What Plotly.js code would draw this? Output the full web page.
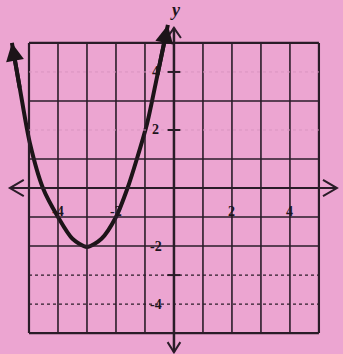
<!DOCTYPE html>
<html>
<head>
<meta charset="utf-8">
<script src="https://cdn.plot.ly/plotly-3.0.1.min.js"></script>
<style>
  html, body { margin: 0; padding: 0; background: #eca5d1; }
  #chart { width: 343px; height: 354px; }
</style>
</head>
<body>
<div id="chart"></div>
<script>
// parabola (vertex near (-3,-2))
var curveX = [-5.59, -5.31, -4.97, -4.52, -4.0, -3.5, -3.0, -2.5, -2.0, -1.6, -1.28, -0.92, -0.58, -0.21];
var curveY = [5.0, 3.4, 1.55, 0.0, -1.0, -1.75, -2.03, -1.75, -1.0, 0.0, 1.0, 2.25, 3.85, 5.62];

// grid
var gridX = [-5, -4, -3, -2, -1, 0, 1, 2, 3, 4, 5];
var solidY = [5, 3, 1, -1, -2, -5];
var dottedY = [-3, -4];
var faintY = [2, 4];

// tick labels
var xTickVals = [-4, -2, 2, 4];
var xTickText = ["-4", "-2", "2", "4"];
var yTickVals = [4, 2, -2, -4];
var yTickText = ["4", "2", "-2", "-4"];
var yTickMarks = [4, 2, -3];

var ink = "#2a1c28";
var shapes = [];

gridX.forEach(function(v){
    var w = (v == 0) ? 2.5 : ((v == -5 || v == 5) ? 2.2 : 1.6);
    if(v == 0){
        shapes.push({type:"line", x0:0, x1:0, y0:-5.66, y1:5.52, line:{color:ink, width:w}});
    } else {
        shapes.push({type:"line", x0:v, x1:v, y0:-5, y1:5, line:{color:ink, width:w}});
    }
});
solidY.forEach(function(v){
    var w = (v == -5 || v == 5) ? 2.2 : 1.6;
    shapes.push({type:"line", x0:-5, x1:5, y0:v, y1:v, line:{color:ink, width:w}});
});
dottedY.forEach(function(v){
    shapes.push({type:"line", x0:-5, x1:5, y0:v, y1:v, line:{color:ink, width:1.4, dash:"dot"}});
});
faintY.forEach(function(v){
    shapes.push({type:"line", x0:-5, x1:5, y0:v, y1:v, line:{color:"#d994c0", width:1, dash:"dot"}});
});
// x axis
shapes.push({type:"line", x0:-5.66, x1:5.62, y0:0, y1:0, line:{color:ink, width:2}});
// axis chevrons
shapes.push({type:"path", path:"M -5.18 0.28 L -5.66 0 L -5.18 -0.28", line:{color:ink, width:2}});
shapes.push({type:"path", path:"M 5.14 0.28 L 5.62 0 L 5.14 -0.28", line:{color:ink, width:2}});
shapes.push({type:"path", path:"M -0.24 5.17 L 0 5.52 L 0.24 5.17", line:{color:ink, width:2}});
shapes.push({type:"path", path:"M -0.22 -5.31 L 0 -5.66 L 0.22 -5.31", line:{color:ink, width:2}});
// little ticks on the y axis
yTickMarks.forEach(function(v){
    shapes.push({type:"line", x0:-0.22, x1:0.22, y0:v, y1:v, line:{color:ink, width:2}});
});

var lblFont = {family:"Liberation Serif", size:14, color:"#1e141c", weight:"bold"};
var annotations = [];
xTickVals.forEach(function(v, i){
    annotations.push({x:v, y:-0.82, text:xTickText[i], showarrow:false, font:lblFont});
});
yTickVals.forEach(function(v, i){
    annotations.push({x:-0.62, y:v, text:yTickText[i], showarrow:false, font:lblFont});
});
annotations.push({x:0.05, y:6.15, text:"<i>y</i>", showarrow:false,
    font:{family:"Liberation Serif", size:18, color:"#1e141c", weight:"bold"}});

// arrow heads on both ends of the curve
var n = curveX.length;
annotations.push({x:curveX[0], y:curveY[0], ax:curveX[1], ay:curveY[1], axref:"x", ayref:"y",
    text:"", showarrow:true, arrowhead:2, arrowsize:0.9, arrowwidth:4, arrowcolor:"#1c1418", standoff:0});
annotations.push({x:curveX[n-1], y:curveY[n-1], ax:curveX[n-2], ay:curveY[n-2], axref:"x", ayref:"y",
    text:"", showarrow:true, arrowhead:2, arrowsize:0.9, arrowwidth:4, arrowcolor:"#1c1418", standoff:0});

var data = [{
    x: curveX,
    y: curveY,
    mode: "lines",
    type: "scatter",
    line: {color:"#1c1418", width:4, shape:"spline", smoothing:0.8},
    hoverinfo: "skip"
}];

var layout = {
    width: 343,
    height: 354,
    margin: {l:0, r:0, t:0, b:0},
    paper_bgcolor: "#eca5d1",
    plot_bgcolor: "#eca5d1",
    showlegend: false,
    xaxis: {range:[-6.0, 5.83], visible:false, fixedrange:true},
    yaxis: {range:[-5.72, 6.48], visible:false, fixedrange:true},
    shapes: shapes,
    annotations: annotations
};

Plotly.newPlot("chart", data, layout, {displayModeBar:false, staticPlot:true});
</script>
</body>
</html>
